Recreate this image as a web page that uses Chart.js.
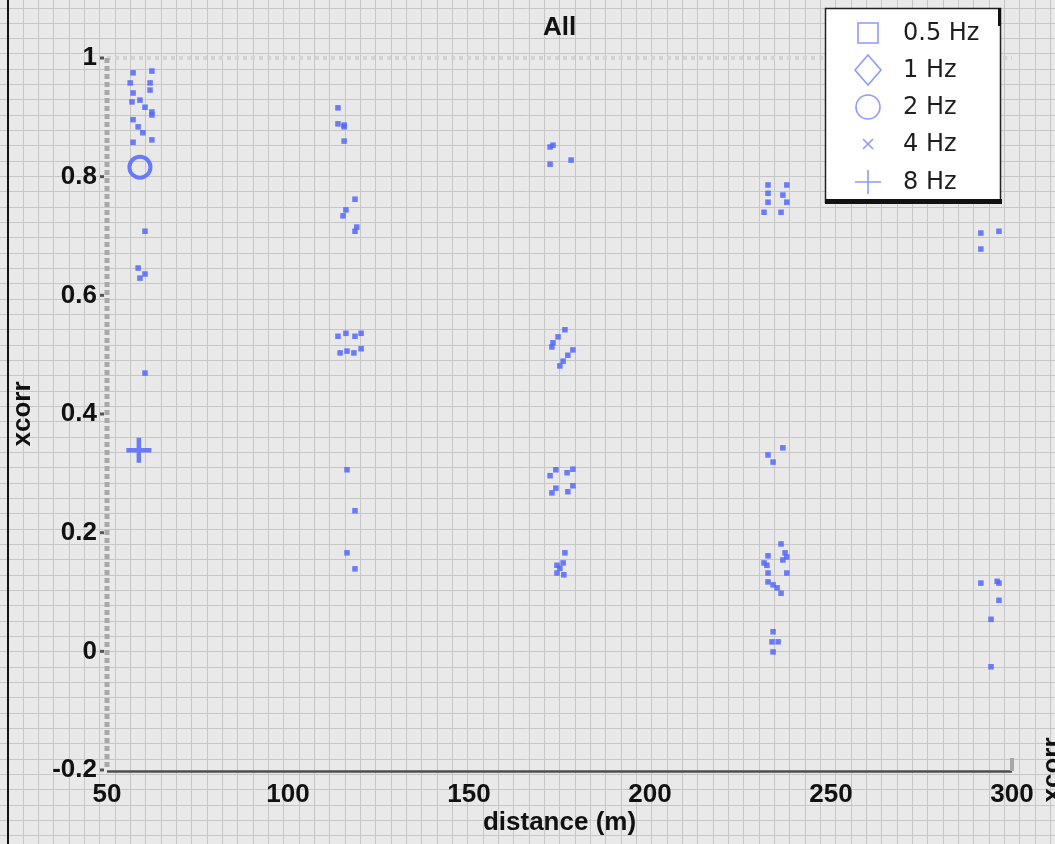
<!DOCTYPE html>
<html>
<head>
<meta charset="utf-8">
<script src="https://cdn.jsdelivr.net/npm/chart.js@4/dist/chart.umd.min.js"></script>
<style>
  html, body { margin: 0; padding: 0; background: #e8e8e8; }
  canvas { display: block; }
</style>
</head>
<body>
<canvas id="xcorrChart" width="1055" height="844"></canvas>
<script>
// values
const frequencies = ['0.5 Hz', '1 Hz', '2 Hz', '4 Hz', '8 Hz'];

const distHalf = [
  57.2, 62.4, 56.4, 61.9, 57.2, 61.9, 59.1, 56.9, 60.5, 62.4, 62.4, 57.2, 58.6, 59.9, 62.4, 57.2,
  60.5, 58.6, 60.5, 59.1, 60.5,
  113.8, 113.8, 115.5, 115.5, 115.5, 118.5, 116.0, 115.2, 119.0, 118.5,
  113.8, 116.0, 118.5, 120.2, 114.4, 116.3, 118.2, 120.2, 116.3, 118.5, 116.3, 118.5,
  173.2, 172.4, 172.4, 178.2, 176.5, 174.6, 173.2, 172.9, 178.7, 177.3, 176.0, 175.1,
  174.0, 172.4, 177.1, 178.7, 174.0, 172.9, 178.7, 177.3, 176.5, 174.3, 176.0, 174.3, 176.2, 175.1,
  232.6, 237.8, 232.6, 232.6, 236.7, 237.8, 231.5, 236.2, 236.7, 232.6, 234.0,
  236.2, 237.3, 237.8, 236.7, 232.6, 231.5, 232.3, 232.6, 237.8, 232.6, 234.0, 235.1, 236.2,
  234.0, 233.7, 235.4, 234.0,
  291.4, 296.4, 291.4, 291.4, 295.9, 296.4, 296.4, 294.2, 294.2
];
const xcorrHalf = [
  0.975, 0.978, 0.958, 0.958, 0.941, 0.946, 0.929, 0.926, 0.917, 0.909, 0.904, 0.896, 0.884, 0.874, 0.862, 0.858,
  0.708, 0.646, 0.636, 0.629, 0.469,
  0.916, 0.889, 0.887, 0.884, 0.860, 0.762, 0.744, 0.734, 0.715, 0.708,
  0.531, 0.536, 0.531, 0.536, 0.503, 0.506, 0.503, 0.510, 0.306, 0.237, 0.166, 0.139,
  0.853, 0.850, 0.821, 0.828, 0.542, 0.530, 0.520, 0.513, 0.508, 0.499, 0.489, 0.481,
  0.306, 0.296, 0.301, 0.307, 0.275, 0.267, 0.279, 0.269, 0.166, 0.145, 0.149, 0.132, 0.129, 0.140,
  0.786, 0.786, 0.772, 0.757, 0.769, 0.757, 0.740, 0.740, 0.343, 0.331, 0.319,
  0.181, 0.166, 0.159, 0.154, 0.161, 0.149, 0.145, 0.132, 0.132, 0.117, 0.112, 0.107, 0.098,
  0.033, 0.016, 0.016, -0.001,
  0.705, 0.708, 0.678, 0.115, 0.118, 0.115, 0.086, 0.054, -0.026
];
const dist1 = [];
const xcorr1 = [];
const dist2 = [59.1];
const xcorr2 = [0.816];
const dist4 = [];
const xcorr4 = [];
const dist8 = [58.8];
const xcorr8 = [0.339];

const xTicks = [50, 100, 150, 200, 250, 300];
const yTicks = [-0.2, 0, 0.2, 0.4, 0.6, 0.8, 1];

const BLUE = 'rgba(84, 102, 255, 0.85)';
const LEGEND_BLUE = '#8c9bff';
const TICK_FONT = { family: '"Liberation Sans", Arial, sans-serif', size: 26, weight: 'bold' };

function toPoints(xs, ys) {
  return xs.map(function (x, i) { return { x: x, y: ys[i] }; });
}

// graph paper behind everything
var paperPlugin = {
  id: 'paper',
  beforeDraw: function (chart) {
    var ctx = chart.ctx, w = chart.width, h = chart.height;
    ctx.save();
    ctx.fillStyle = '#e9e9e9';
    ctx.fillRect(0, 0, w, h);
    var step = 15.33;
    ctx.strokeStyle = '#c6c6c6';
    ctx.lineWidth = 1;
    ctx.beginPath();
    for (var x = 7.5; x < w; x += step) {
      ctx.moveTo(Math.round(x) + 0.5, 0);
      ctx.lineTo(Math.round(x) + 0.5, h);
    }
    for (var y = 7.5; y < h; y += step) {
      ctx.moveTo(0, Math.round(y) + 0.5);
      ctx.lineTo(w, Math.round(y) + 0.5);
    }
    ctx.stroke();
    // left frame edge
    ctx.fillStyle = '#111';
    ctx.fillRect(7, 0, 2, h);
    ctx.restore();
  }
};

// axis lines in the old plotting style
var axesPlugin = {
  id: 'oldAxes',
  beforeDatasetsDraw: function (chart) {
    var ctx = chart.ctx, a = chart.chartArea, ys = chart.scales.y;
    ctx.save();
    // top dotted line
    ctx.strokeStyle = '#d4d4d4';
    ctx.lineWidth = 4;
    ctx.setLineDash([4, 4]);
    ctx.beginPath();
    ctx.moveTo(a.left, a.top);
    ctx.lineTo(a.right, a.top);
    ctx.stroke();
    // left dashed line
    ctx.strokeStyle = '#a8a8a8';
    ctx.lineWidth = 5;
    ctx.setLineDash([5, 3]);
    ctx.beginPath();
    ctx.moveTo(a.left, a.top);
    ctx.lineTo(a.left, a.bottom);
    ctx.stroke();
    ctx.setLineDash([]);
    // small tick marks on the left
    ctx.fillStyle = '#555';
    yTicks.forEach(function (v) {
      var py = ys.getPixelForValue(v);
      ctx.fillRect(a.left - 7, py - 1.5, 4, 3);
    });
    // bottom solid line
    ctx.strokeStyle = '#4d4d4d';
    ctx.lineWidth = 2.5;
    ctx.beginPath();
    ctx.moveTo(a.left, a.bottom + 1.5);
    ctx.lineTo(a.right, a.bottom + 1.5);
    ctx.stroke();
    // right end tick
    ctx.strokeStyle = '#a8a8a8';
    ctx.lineWidth = 4;
    ctx.beginPath();
    ctx.moveTo(a.right, a.bottom - 12);
    ctx.lineTo(a.right, a.bottom + 1);
    ctx.stroke();
    ctx.restore();
  }
};

function drawMarker(ctx, style, cx, cy) {
  ctx.beginPath();
  if (style === 'rect') {
    ctx.rect(cx - 10, cy - 10, 20, 20);
  } else if (style === 'rectRot') {
    ctx.moveTo(cx, cy - 15);
    ctx.lineTo(cx + 13, cy);
    ctx.lineTo(cx, cy + 15);
    ctx.lineTo(cx - 13, cy);
    ctx.closePath();
  } else if (style === 'circle') {
    ctx.arc(cx, cy, 12, 0, Math.PI * 2);
  } else if (style === 'crossRot') {
    ctx.moveTo(cx - 5, cy - 5); ctx.lineTo(cx + 5, cy + 5);
    ctx.moveTo(cx + 5, cy - 5); ctx.lineTo(cx - 5, cy + 5);
  } else if (style === 'cross') {
    ctx.moveTo(cx - 13, cy); ctx.lineTo(cx + 13, cy);
    ctx.moveTo(cx, cy - 12); ctx.lineTo(cx, cy + 12);
  }
  ctx.stroke();
}

// boxed legend in the top right corner, texts, title
var legendPlugin = {
  id: 'boxLegend',
  afterDraw: function (chart) {
    var ctx = chart.ctx, a = chart.chartArea;
    var styles = ['rect', 'rectRot', 'circle', 'crossRot', 'cross'];
    var rows = [33, 70, 107, 144, 182];
    ctx.save();
    ctx.fillStyle = '#ffffff';
    ctx.fillRect(825, 8, 176, 195);
    ctx.strokeStyle = '#222';
    ctx.lineWidth = 1.5;
    ctx.strokeRect(825.5, 8.5, 175, 194);
    ctx.fillStyle = '#111';
    ctx.fillRect(825, 199, 177, 5);
    ctx.fillRect(998, 8, 3, 18);

    ctx.strokeStyle = LEGEND_BLUE;
    ctx.lineWidth = 1.6;
    ctx.font = '24px "DejaVu Sans", sans-serif';
    ctx.textBaseline = 'middle';
    chart.data.datasets.forEach(function (ds, i) {
      drawMarker(ctx, styles[i], 868, rows[i]);
      ctx.fillStyle = '#1e1e1e';
      ctx.fillText(ds.label, 903, rows[i] + 1);
    });

    // title
    ctx.fillStyle = '#111';
    ctx.textAlign = 'center';
    ctx.font = 'bold 26px "Liberation Sans", Arial, sans-serif';
    ctx.fillText('All', (a.left + a.right) / 2, 28);

    // clipped label of a right axis
    ctx.translate(1053, 770);
    ctx.rotate(-Math.PI / 2);
    ctx.fillText('xcorr', 0, 0);
    ctx.restore();
  }
};

var ctx = document.getElementById('xcorrChart').getContext('2d');
var xcorrChart = new Chart(ctx, {
  type: 'scatter',
  data: {
    datasets: [
      { label: frequencies[0], data: toPoints(distHalf, xcorrHalf), pointStyle: 'rect', pointRadius: 3.9, backgroundColor: BLUE, borderWidth: 0 },
      { label: frequencies[1], data: toPoints(dist1, xcorr1), pointStyle: 'rectRot', pointRadius: 3.9, backgroundColor: BLUE, borderWidth: 0 },
      { label: frequencies[2], data: toPoints(dist2, xcorr2), pointStyle: 'circle', pointRadius: 10.5, backgroundColor: 'rgba(0,0,0,0)', borderColor: BLUE, borderWidth: 4 },
      { label: frequencies[3], data: toPoints(dist4, xcorr4), pointStyle: 'crossRot', pointRadius: 4, borderColor: BLUE, borderWidth: 2 },
      { label: frequencies[4], data: toPoints(dist8, xcorr8), pointStyle: 'cross', pointRadius: 12.5, borderColor: BLUE, borderWidth: 4.5 }
    ]
  },
  options: {
    responsive: false,
    animation: false,
    layout: { padding: { top: 58, right: 43, left: 0, bottom: 0 } },
    plugins: {
      legend: { display: false },
      title: { display: false },
      tooltip: { enabled: false }
    },
    scales: {
      x: {
        type: 'linear',
        min: 50,
        max: 300,
        afterFit: function (s) { s.height = 74; },
        afterBuildTicks: function (s) { s.ticks = xTicks.map(function (v) { return { value: v }; }); },
        ticks: { color: '#111', font: TICK_FONT, padding: 9, maxRotation: 0 },
        grid: { display: false, drawTicks: false },
        border: { display: false },
        title: { display: true, text: 'distance (m)', color: '#111', font: TICK_FONT, padding: { top: 0, bottom: 6 } }
      },
      y: {
        min: -0.2,
        max: 1,
        afterFit: function (s) { s.width = 107; },
        afterBuildTicks: function (s) { s.ticks = yTicks.map(function (v) { return { value: v }; }); },
        ticks: {
          color: '#111',
          font: TICK_FONT,
          padding: 10,
          callback: function (v) { return String(Math.round(v * 10) / 10); }
        },
        grid: { display: false, drawTicks: false },
        border: { display: false },
        title: { display: true, text: 'xcorr', color: '#111', font: TICK_FONT, padding: { top: 7, bottom: 0 } }
      }
    }
  },
  plugins: [paperPlugin, axesPlugin, legendPlugin]
});
</script>
</body>
</html>
